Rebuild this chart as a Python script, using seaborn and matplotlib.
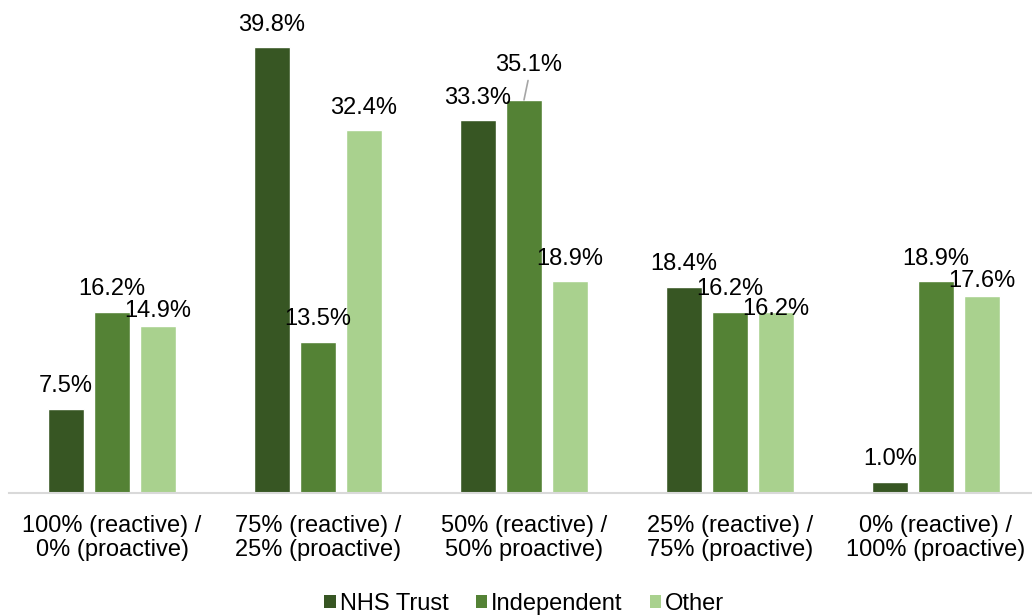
import matplotlib
matplotlib.use("Agg")
import matplotlib.pyplot as plt
import seaborn as sns
import pandas as pd
from matplotlib.patches import Patch

# Share of respondents by reactive / proactive split
categories = [
    "100% (reactive) /\n0% (proactive)",
    "75% (reactive) /\n25% (proactive)",
    "50% (reactive) /\n50% proactive)",
    "25% (reactive) /\n75% (proactive)",
    "0% (reactive) /\n100% (proactive)",
]
series = ["NHS Trust", "Independent", "Other"]
nhs_trust = [7.5, 39.8, 33.3, 18.4, 1.0]
independent = [16.2, 13.5, 35.1, 16.2, 18.9]
other = [14.9, 32.4, 18.9, 16.2, 17.6]

colors = ["#375623", "#548235", "#A9D18E"]
FONT = "Liberation Sans"

rows = []
for name, vals in zip(series, [nhs_trust, independent, other]):
    for cat, v in zip(categories, vals):
        rows.append({"category": cat, "series": name, "value": v})
df = pd.DataFrame(rows)

sns.set_theme(style="white")
plt.rcParams["font.family"] = [FONT, "DejaVu Sans"]
plt.rcParams["text.color"] = "#000000"

fig = plt.figure(figsize=(10.32, 6.15), dpi=100)
ax = fig.add_axes([9 / 1032, 122 / 615, 1030 / 1032, 448 / 615])

sns.barplot(
    data=df, x="category", y="value", hue="series",
    order=categories, hue_order=series, palette=colors,
    width=0.67, gap=0.216, errorbar=None, legend=False, ax=ax,
    saturation=1,
)

ax.set_xlim(-0.5, len(categories) - 0.5)
ax.set_ylim(0, 40)
ax.set_xlabel("")
ax.set_ylabel("")
ax.set_yticks([])
for s in ("left", "top", "right"):
    ax.spines[s].set_visible(False)
ax.spines["bottom"].set_color("#D9D9D9")
ax.spines["bottom"].set_linewidth(1.5)
ax.tick_params(axis="x", length=0, pad=16, labelsize=17, labelcolor="#000000")
for lbl in ax.get_xticklabels():
    lbl.set_linespacing(1.11)
    lbl.set_fontfamily(FONT)

# Value labels sit above each bar; a few are nudged to avoid collisions,
# and one is lifted with a leader line back to its bar.
default_offset = (0, 11.9)
nudged = {
    ("Other", 0): (0, 6.5),
    ("Other", 3): (0, -2.2),
    ("Other", 4): (0, 6.5),
}
lifted = {("Independent", 2): (3.6, 20.9)}
for name, vals, cont in zip(series, [nhs_trust, independent, other], ax.containers):
    for i, (bar, v) in enumerate(zip(cont, vals)):
        x = bar.get_x() + bar.get_width() / 2
        text = f"{v:.1f}%"
        if (name, i) in lifted:
            ax.annotate(
                text, xy=(x, v), xytext=lifted[(name, i)], textcoords="offset points",
                ha="center", va="baseline", fontsize=17, color="#000000",
                family=FONT,
                arrowprops=dict(arrowstyle="-", color="#A6A6A6", lw=1.2,
                                shrinkA=1, shrinkB=0, relpos=(0.5, 0)),
            )
        else:
            ax.annotate(
                text, xy=(x, v), xytext=nudged.get((name, i), default_offset),
                textcoords="offset points",
                ha="center", va="baseline", fontsize=17, color="#000000",
                family=FONT,
            )

handles = [Patch(facecolor=c, edgecolor="none") for c in colors]
fig.legend(
    handles, series, loc="center", bbox_to_anchor=(0.508, 0.018),
    ncol=3, frameon=False, handlelength=0.5, handleheight=0.5,
    handletextpad=0.15, columnspacing=1.15, labelcolor="#000000",
    prop={"family": FONT, "size": 17},
)

fig.savefig("out.png", dpi=100)
